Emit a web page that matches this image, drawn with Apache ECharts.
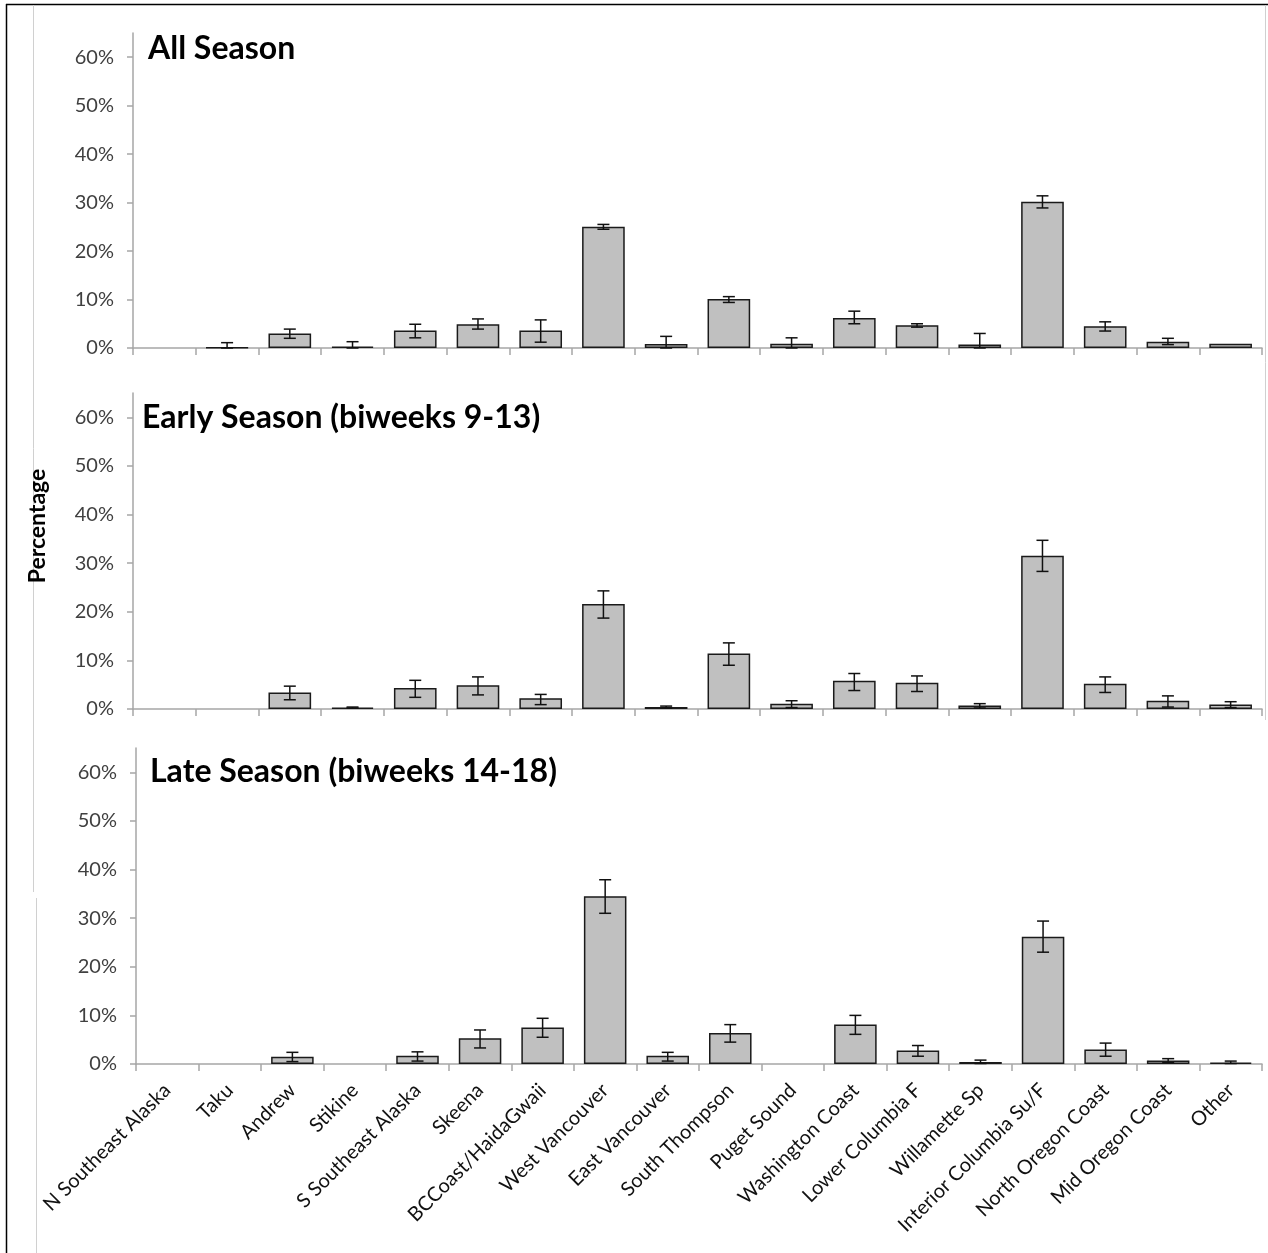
<!DOCTYPE html>
<html>
<head>
<meta charset="utf-8">
<style>
  html, body { margin: 0; padding: 0; background: #fff; }
  #chart { width: 1268px; height: 1253px; }
</style>
<script src="https://cdn.jsdelivr.net/npm/echarts@6/dist/echarts.min.js"></script>
</head>
<body>
<div id="chart"></div>
<script>
  // stock groups
  var categories = ['N Southeast Alaska', 'Taku', 'Andrew', 'Stikine', 'S Southeast Alaska', 'Skeena',
    'BCCoast/HaidaGwaii', 'West Vancouver', 'East Vancouver', 'South Thompson', 'Puget Sound',
    'Washington Coast', 'Lower Columbia F', 'Willamette Sp', 'Interior Columbia Su/F',
    'North Oregon Coast', 'Mid Oregon Coast', 'Other'];

  var tickValues = [0, 10, 20, 30, 40, 50, 60];
  var panelTitles = ['All Season', 'Early Season (biweeks 9-13)', 'Late Season (biweeks 14-18)'];

  // All season
  var allVals = [0, 0.1, 3.0, 0.3, 3.6, 4.9, 3.6, 25.0, 0.8, 10.1, 0.9, 6.2, 4.7, 0.7, 30.2, 4.5, 1.3, 0.9];
  var allLow = [null, 0, 2.0, 0, 2.1, 3.9, 1.2, 24.5, 0, 9.4, 0, 5.0, 4.3, 0, 28.9, 3.5, 0.7, null];
  var allHigh = [null, 1.1, 3.9, 1.3, 4.9, 6.0, 5.8, 25.5, 2.4, 10.6, 2.1, 7.6, 5.0, 3.0, 31.4, 5.4, 2.0, null];

  // Early season (biweeks 9-13)
  var earlyVals = [0, 0, 3.4, 0.3, 4.3, 4.9, 2.2, 21.6, 0.4, 11.4, 1.1, 5.8, 5.4, 0.7, 31.5, 5.2, 1.7, 0.9];
  var earlyLow = [null, null, 1.9, 0.2, 2.4, 2.9, 0.9, 18.7, 0.2, 9.0, 0.3, 3.8, 3.6, 0.2, 28.3, 3.4, 0.4, 0.3];
  var earlyHigh = [null, null, 4.7, 0.4, 5.9, 6.6, 3.0, 24.3, 0.6, 13.6, 1.7, 7.3, 6.8, 1.1, 34.7, 6.6, 2.7, 1.5];

  // Late season (biweeks 14-18)
  var lateVals = [0, 0, 1.5, 0, 1.7, 5.3, 7.5, 34.5, 1.7, 6.4, 0, 8.1, 2.8, 0.4, 26.2, 3.0, 0.7, 0.3];
  var lateLow = [null, null, 0.5, null, 0.6, 3.3, 5.5, 31.0, 0.6, 4.5, null, 6.1, 1.6, 0.1, 23.0, 1.6, 0.3, 0.1];
  var lateHigh = [null, null, 2.4, null, 2.5, 7.0, 9.4, 37.9, 2.4, 8.1, null, 10.0, 3.8, 0.8, 29.4, 4.3, 1.1, 0.6];

  var panels = [
    { vals: allVals, low: allLow, high: allHigh },
    { vals: earlyVals, low: earlyLow, high: earlyHigh },
    { vals: lateVals, low: lateLow, high: lateHigh }
  ];

  var grids = [
    { left: 133, top: 33, width: 1129, height: 315 },
    { left: 133, top: 393, width: 1129, height: 316 },
    { left: 136, top: 748, width: 1126, height: 316 }
  ];
  var titlePos = [[148, 33], [142, 402], [150, 756]];

  var font = 'Lato, "Open Sans", sans-serif';
  var axisGray = '#a6a6a6';

  function errorItem (params, api) {
    var lo = api.coord([api.value(0), api.value(1)]);
    var hi = api.coord([api.value(0), api.value(2)]);
    var x = lo[0];
    var cap = 6;
    var style = { stroke: '#111', lineWidth: 1.5 };
    return {
      type: 'group',
      children: [
        { type: 'line', shape: { x1: x, y1: lo[1], x2: x, y2: hi[1] }, style: style },
        { type: 'line', shape: { x1: x - cap, y1: lo[1], x2: x + cap, y2: lo[1] }, style: style },
        { type: 'line', shape: { x1: x - cap, y1: hi[1], x2: x + cap, y2: hi[1] }, style: style }
      ]
    };
  }

  var xAxes = [], yAxes = [], series = [], titles = [];
  panels.forEach(function (p, k) {
    xAxes.push({
      type: 'category',
      gridIndex: k,
      data: categories,
      axisLine: { lineStyle: { color: axisGray, width: 1.5 } },
      axisTick: { show: true, length: 7, lineStyle: { color: axisGray, width: 1.5 } },
      axisLabel: {
        show: k === 2,
        interval: 0,
        rotate: 45,
        margin: 23,
        fontFamily: font,
        fontSize: 20,
        color: '#111'
      }
    });
    yAxes.push({
      type: 'value',
      gridIndex: k,
      min: 0,
      max: 65,
      splitLine: { show: false },
      axisLine: { show: true, lineStyle: { color: axisGray, width: 1.5 } },
      axisTick: { show: true, length: 6, customValues: tickValues, lineStyle: { color: axisGray, width: 1.5 } },
      axisLabel: {
        customValues: tickValues,
        formatter: '{value}%',
        margin: 19,
        fontFamily: font,
        fontSize: 20,
        color: '#404040'
      }
    });
    series.push({
      type: 'bar',
      xAxisIndex: k,
      yAxisIndex: k,
      barWidth: '68%',
      data: p.vals.map(function (v) { return v > 0 ? v : null; }),
      itemStyle: { color: '#c0c0c0', borderColor: '#1a1a1a', borderWidth: 1.5 }
    });
    var errData = [];
    p.low.forEach(function (lo, i) {
      if (lo !== null && p.high[i] !== null) errData.push([i, lo, p.high[i]]);
    });
    series.push({
      type: 'custom',
      xAxisIndex: k,
      yAxisIndex: k,
      renderItem: errorItem,
      data: errData,
      z: 5
    });
    titles.push({
      text: panelTitles[k],
      left: titlePos[k][0],
      top: titlePos[k][1],
      padding: 0,
      textStyle: { fontFamily: font, fontSize: 32, fontWeight: 'bold', color: '#000' }
    });
  });

  var chart = echarts.init(document.getElementById('chart'), null, { renderer: 'canvas' });
  chart.setOption({
    animation: false,
    backgroundColor: '#fff',
    title: titles,
    grid: grids,
    xAxis: xAxes,
    yAxis: yAxes,
    series: series,
    graphic: [
      // frame of the pasted figure
      { type: 'line', shape: { x1: 6, y1: 4.5, x2: 1268, y2: 4.5 }, style: { stroke: '#000', lineWidth: 1.5 } },
      { type: 'line', shape: { x1: 6.5, y1: 4, x2: 6.5, y2: 1253 }, style: { stroke: '#000', lineWidth: 1.5 } },
      { type: 'line', shape: { x1: 33.5, y1: 5, x2: 33.5, y2: 892 }, style: { stroke: '#d0d0d0', lineWidth: 1 } },
      { type: 'line', shape: { x1: 36.5, y1: 898, x2: 36.5, y2: 1253 }, style: { stroke: '#d0d0d0', lineWidth: 1 } },
      { type: 'line', shape: { x1: 1265.5, y1: 5, x2: 1265.5, y2: 720 }, style: { stroke: '#d0d0d0', lineWidth: 1 } },
      {
        type: 'text',
        x: 38,
        y: 526,
        rotation: Math.PI / 2,
        style: {
          text: 'Percentage',
          fontFamily: font,
          fontSize: 23,
          fontWeight: 'bold',
          fill: '#000',
          align: 'center',
          verticalAlign: 'middle'
        }
      }
    ]
  });
</script>
</body>
</html>
